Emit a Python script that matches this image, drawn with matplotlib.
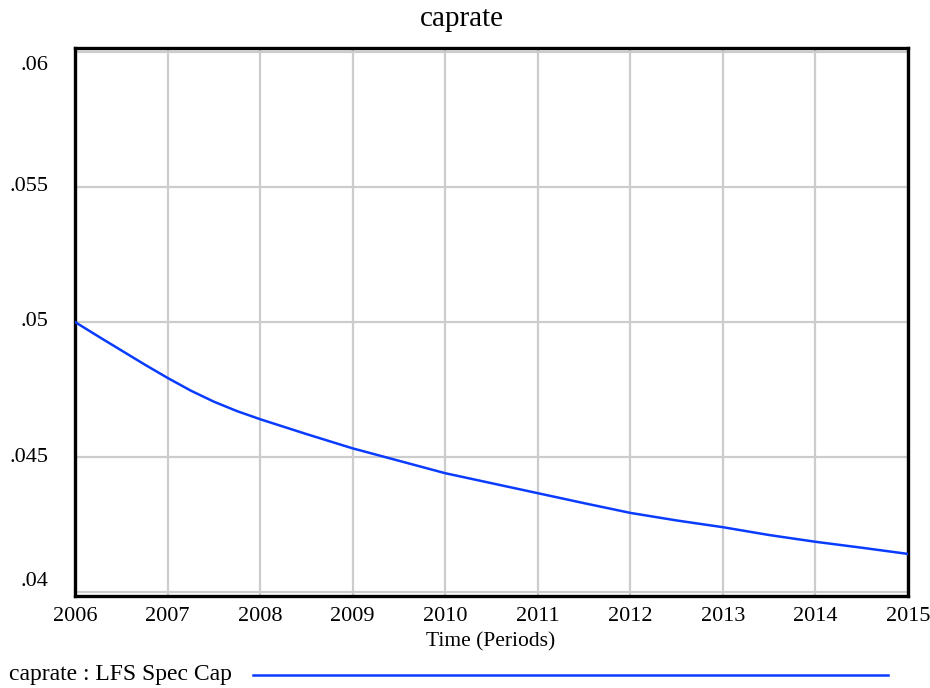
import numpy as np
import matplotlib.pyplot as plt
from matplotlib.lines import Line2D
from matplotlib.transforms import ScaledTranslation, blended_transform_factory

plt.rcParams['font.family'] = ['Liberation Serif', 'DejaVu Serif']

# caprate (quarterly early on, half-yearly later)
years = [2006, 2006.25, 2006.5, 2006.75, 2007, 2007.25, 2007.5, 2007.75, 2008,
         2008.5, 2009, 2009.5, 2010, 2010.5, 2011, 2011.5, 2012, 2012.5,
         2013, 2013.5, 2014, 2014.5, 2015]
caprate = [0.05, 0.04947, 0.04895, 0.04843, 0.04793, 0.04746, 0.04705, 0.04670,
           0.04640, 0.04585, 0.04532, 0.04486, 0.04440, 0.04403, 0.04366,
           0.04329, 0.04293, 0.04265, 0.04240, 0.04211, 0.04186, 0.04164, 0.04141]
xticks = list(range(2006, 2016))
yticks = [0.04, 0.045, 0.05, 0.055, 0.06]
ylabels = ['.04', '.045', '.05', '.055', '.06']

W, H = 930, 688
fig = plt.figure(figsize=(9.3, 6.88), dpi=100)
ax = fig.add_axes([75/W, 1 - 596/H, 833/W, 548/H])

ax.plot(years, caprate, color='#0a3cff', lw=1.8, zorder=3)

ax.set_xlim(2006, 2015)
ax.set_ylim(0.04 - 4/27000, 0.06 + 4/27000)
ax.set_xticks(xticks)
ax.set_xticklabels([])
ax.set_yticks(yticks)
ax.set_yticklabels([])
ax.tick_params(axis='both', length=0)
ax.grid(True, color='#cccccc', lw=1.6)
ax.set_axisbelow(True)
for s in ax.spines.values():
    s.set_linewidth(2.4)
    s.set_color('black')

# x labels
xtr = blended_transform_factory(ax.transData, fig.transFigure)
for y in xticks:
    ax.text(y, 1 - 621/H, str(y), transform=xtr, ha='center', va='baseline', fontsize=16)

# y labels, the end ones pulled inward like the original
ytr = blended_transform_factory(fig.transFigure, ax.transData)
for v, lab in zip(yticks, ylabels):
    t = ytr
    if lab == '.06':
        t = ytr + ScaledTranslation(0, -0.14, fig.dpi_scale_trans)
    elif lab == '.04':
        t = ytr + ScaledTranslation(0, 0.10, fig.dpi_scale_trans)
    ax.text(48/W, v, lab, transform=t, ha='right', va='center', fontsize=16)

fig.text(491/W, 1 - 646/H, 'Time (Periods)', ha='center', va='baseline', fontsize=15.5)
fig.text(462/W, 1 - 26/H, 'caprate', ha='center', va='baseline', fontsize=21)

# legend line
fig.text(9/W, 1 - 680/H, 'caprate : LFS Spec Cap', ha='left', va='baseline', fontsize=17)
fig.add_artist(Line2D([253/W, 888/W], [1 - 675/H, 1 - 675/H],
                      color='#0a3cff', lw=1.8, transform=fig.transFigure))

fig.savefig('out.png', dpi=100)
